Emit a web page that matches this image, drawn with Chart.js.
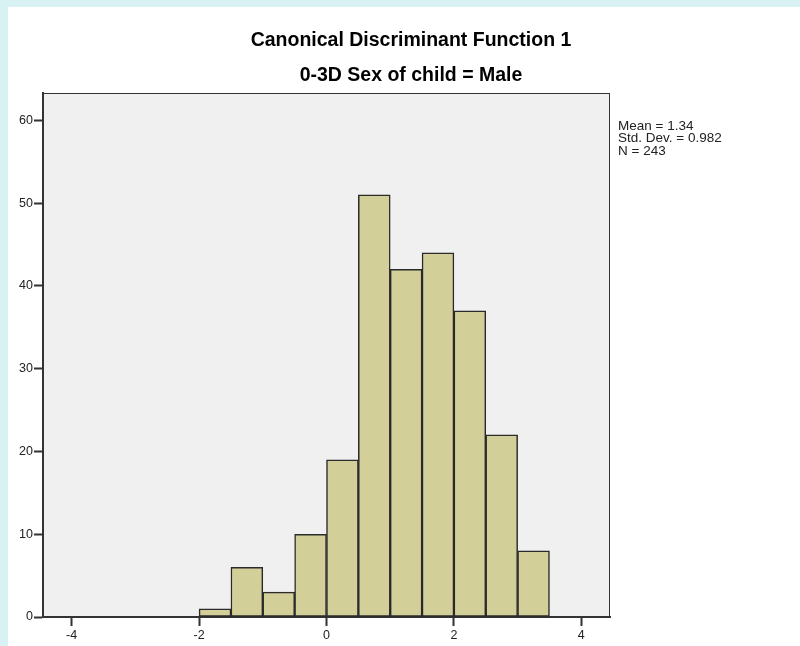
<!DOCTYPE html>
<html>
<head>
<meta charset="utf-8">
<script src="https://cdn.jsdelivr.net/npm/chart.js@4/dist/chart.umd.min.js"></script>
<style>
  html, body { margin: 0; padding: 0; background: #d8f2f3; }
  .frame { position: absolute; left: 8px; top: 7px; width: 792px; height: 639px; background: #fff; }
  canvas { display: block; }
</style>
</head>
<body>
<div class="frame"><canvas id="histChart" width="792" height="639"></canvas></div>
<script>
// histogram bins (width 0.5), centers and counts
const binCenters = [-1.75, -1.25, -0.75, -0.25, 0.25, 0.75, 1.25, 1.75, 2.25, 2.75, 3.25];
const counts = [1, 6, 3, 10, 19, 51, 42, 44, 37, 22, 8];
const xTicks = [-4, -2, 0, 2, 4];
const yTicks = [0, 10, 20, 30, 40, 50, 60];
const titleLines = ['Canonical Discriminant Function 1', '0-3D Sex of child = Male'];
const statLines = ['Mean = 1.34', 'Std. Dev. = 0.982', 'N = 243'];

const axisColor = '#333333';
const tickFont = { family: 'Liberation Sans, Arial, sans-serif', size: 12.5 };

// plot background, frame, titles and stats box
const decorPlugin = {
    id: 'decor',
    beforeDraw: function(chart) {
        const ctx = chart.ctx;
        const a = chart.chartArea;
        ctx.save();
        ctx.fillStyle = '#f0f0f0';
        ctx.fillRect(a.left, a.top, a.right - a.left, a.bottom - a.top);
        ctx.restore();
    },
    afterDraw: function(chart) {
        const ctx = chart.ctx;
        const a = chart.chartArea;
        ctx.save();
        ctx.strokeStyle = axisColor;
        ctx.lineWidth = 1;
        ctx.strokeRect(a.left + 0.5, a.top + 0.5, a.right - a.left - 1, a.bottom - a.top);

        ctx.fillStyle = '#000';
        ctx.textAlign = 'center';
        ctx.textBaseline = 'middle';
        ctx.font = 'bold 19.5px Liberation Sans, Arial, sans-serif';
        ctx.fillText(titleLines[0], 403, 34);
        ctx.fillText(titleLines[1], 403, 69);

        ctx.fillStyle = '#222';
        ctx.textAlign = 'left';
        ctx.font = '13.5px Liberation Sans, Arial, sans-serif';
        statLines.forEach((line, i) => {
            ctx.fillText(line, a.right + 8, a.top + 33 + i * 12.5);
        });
        ctx.restore();
    }
};

const ctx = document.getElementById('histChart').getContext('2d');
new Chart(ctx, {
    type: 'bar',
    data: {
        datasets: [{
            data: binCenters.map((x, i) => ({ x: x, y: counts[i] })),
            backgroundColor: '#d3cf98',
            borderColor: '#2a2a2a',
            borderWidth: 1.5,
            borderSkipped: false,
            barPercentage: 1,
            categoryPercentage: 1
        }]
    },
    options: {
        responsive: false,
        animation: false,
        devicePixelRatio: 1,
        layout: { padding: { left: 0, right: 190, top: 86, bottom: 0 } },
        plugins: {
            legend: { display: false },
            tooltip: { enabled: false }
        },
        scales: {
            x: {
                type: 'linear',
                min: -4.45,
                max: 4.45,
                offset: false,
                afterBuildTicks: function(scale) {
                    scale.ticks = xTicks.map(v => ({ value: v }));
                },
                afterFit: function(scale) { scale.height = 29; },
                grid: { offset: false, drawOnChartArea: false, drawTicks: true, tickLength: 9, tickWidth: 2, color: axisColor },
                border: { color: axisColor, width: 2 },
                ticks: { font: tickFont, color: '#222', padding: 2, maxRotation: 0 }
            },
            y: {
                min: 0,
                max: 63.3,
                afterBuildTicks: function(scale) {
                    scale.ticks = yTicks.map(v => ({ value: v }));
                },
                afterFit: function(scale) { scale.width = 35; },
                grid: { drawOnChartArea: false, drawTicks: true, tickLength: 9, tickWidth: 2, color: axisColor },
                border: { color: axisColor, width: 2 },
                ticks: { font: tickFont, color: '#222', padding: 1 }
            }
        }
    },
    plugins: [decorPlugin]
});
</script>
</body>
</html>
